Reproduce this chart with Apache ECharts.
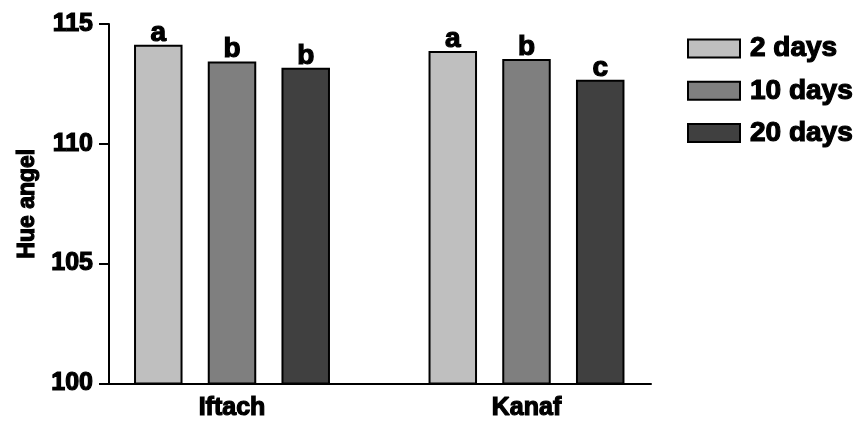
<!DOCTYPE html>
<html>
<head>
<meta charset="utf-8">
<script src="https://cdn.jsdelivr.net/npm/echarts@6/dist/echarts.min.js"></script>
<style>
html,body{margin:0;padding:0;background:#fff;}
#chart{width:860px;height:421px;}
</style>
</head>
<body>
<div id="chart"></div>
<script>
var categories = ['Iftach', 'Kanaf'];
var seriesNames = ['2 days', '10 days', '20 days'];
var values2 = [114.13, 113.87];
var values10 = [113.43, 113.54];
var values20 = [113.17, 112.67];
var letters2 = ['a', 'a'];
var letters10 = ['b', 'b'];
var letters20 = ['b', 'c'];
var yTicks = [100, 105, 110, 115];
var colors = ['#bfbfbf', '#7f7f7f', '#404040'];

var FONT = 'Liberation Sans';
var chart = echarts.init(document.getElementById('chart'), null, {renderer: 'canvas'});

function txt(size, extra) {
  var o = {fontFamily: FONT, fontWeight: 'bold', fontSize: size, color: '#000',
           textBorderColor: '#000', textBorderWidth: 1.2};
  for (var k in extra) o[k] = extra[k];
  return o;
}

function makeSeries(name, vals, lets, color) {
  return {
    name: name,
    type: 'bar',
    xAxisIndex: 0,
    yAxisIndex: 0,
    data: vals,
    barWidth: 48.5,
    barGap: '52%',
    itemStyle: {color: color, borderColor: '#000', borderWidth: 2},
    label: txt(28, {
      show: true,
      position: 'top',
      distance: -2,
      formatter: function (p) { return lets[p.dataIndex]; }
    }),
    emphasis: {disabled: true},
    animation: false
  };
}

var option = {
  animation: false,
  backgroundColor: '#fff',
  grid: [
    {left: 84.75, right: 186.25, top: 24, bottom: 37.5},
    {left: 109, right: 209, top: 24, bottom: 37.5}
  ],
  legend: {
    orient: 'vertical',
    left: 682,
    top: 29,
    itemWidth: 52,
    itemHeight: 18,
    itemGap: 13,
    icon: 'rect',
    data: seriesNames,
    textStyle: txt(28, {padding: [0, 0, 0, 5]}),
    selectedMode: false
  },
  xAxis: [
    {
      type: 'category', gridIndex: 0, data: categories,
      axisLine: {show: false}, axisTick: {show: false},
      axisLabel: txt(25, {margin: 12}),
      splitLine: {show: false}
    },
    {
      type: 'category', gridIndex: 1, data: categories,
      axisLine: {show: true, lineStyle: {color: '#000', width: 2}},
      axisTick: {show: false}, axisLabel: {show: false}, splitLine: {show: false}
    }
  ],
  yAxis: [
    {
      type: 'value', gridIndex: 0, min: 100, max: 115, interval: 5,
      offset: -24.25,
      name: 'Hue angel', nameLocation: 'middle', nameGap: 70, nameRotate: 90,
      nameTextStyle: txt(23, {}),
      axisLine: {show: true, lineStyle: {color: '#000', width: 2}},
      axisTick: {show: true, inside: false, length: 10, lineStyle: {color: '#000', width: 2}},
      axisLabel: txt(25, {margin: 16,
        formatter: function (v) { return yTicks.indexOf(v) >= 0 ? String(v) : ''; }}),
      splitLine: {show: false}
    },
    {type: 'value', gridIndex: 1, min: 100, max: 115, show: false}
  ],
  series: [
    makeSeries(seriesNames[0], values2, letters2, colors[0]),
    makeSeries(seriesNames[1], values10, letters10, colors[1]),
    makeSeries(seriesNames[2], values20, letters20, colors[2])
  ]
};
chart.setOption(option);
</script>
</body>
</html>
